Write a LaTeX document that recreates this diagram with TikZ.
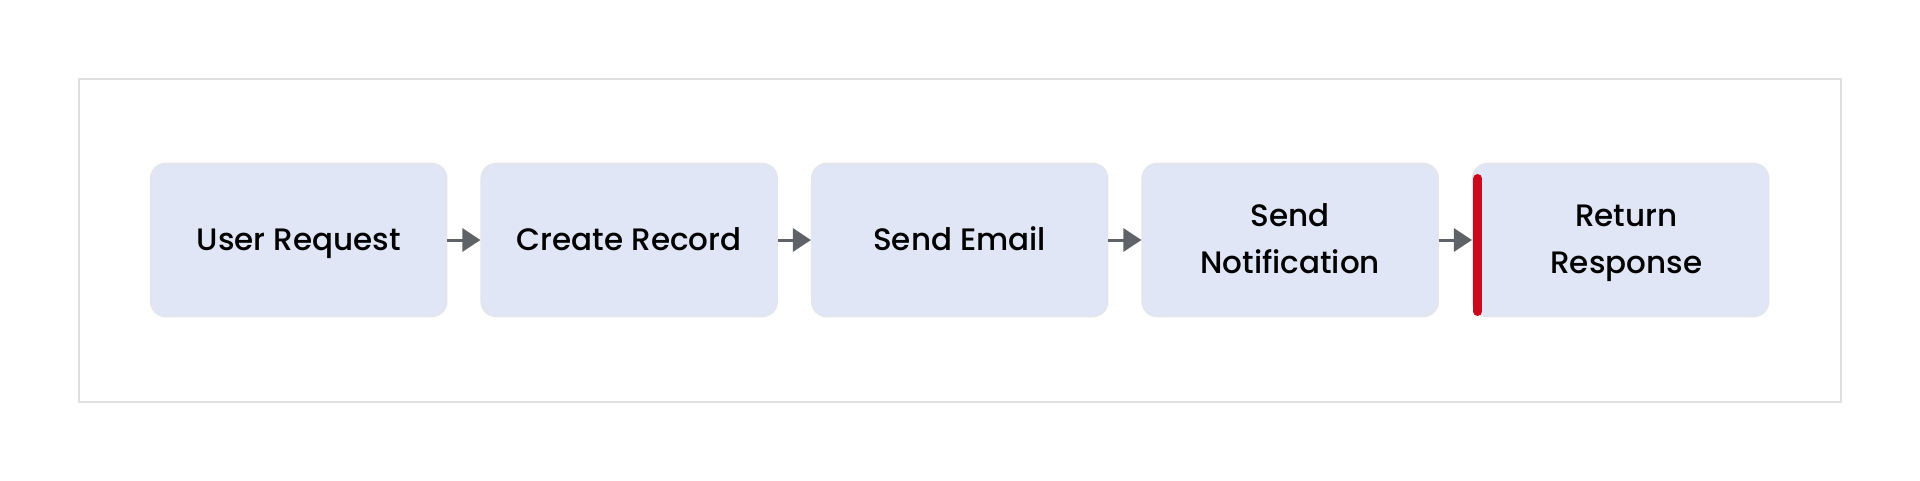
\documentclass[tikz,border=0pt]{standalone}
\usepackage{fontspec}
\setmainfont{Poppins}[UprightFont={* Medium}]
\usetikzlibrary{arrows.meta}
\definecolor{boxfill}{HTML}{E0E6F5}
\definecolor{boxline}{HTML}{E3E5EC}
\definecolor{frameline}{HTML}{E0E0E0}
\definecolor{arrowgray}{HTML}{5F6368}
\definecolor{accentred}{HTML}{CC0A1D}
\tikzset{
  stepbox/.style={draw=boxline, line width=1.5pt, fill=boxfill, rounded corners=15pt,
    minimum width=296pt, minimum height=153pt, inner sep=0pt, align=center,
    text=black, font=\fontsize{31}{46.7}\selectfont},
  oneline/.style={text height=30pt, text depth=8.6pt},
  twoline/.style={text height=76.7pt, text depth=10.1pt},
  flow/.style={draw=arrowgray, line width=3pt, -{Triangle[length=18pt,width=23pt]}},
  accentbar/.style={draw=accentred, line width=9pt, line cap=round}
}
\begin{document}
\begin{tikzpicture}[x=1pt,y=-1pt]
\useasboundingbox (0,0) rectangle (1920,480);
\fill[white] (0,0) rectangle (1920,480);
\draw[frameline, line width=2pt] (78.5,78.5) rectangle (1840.5,401.5);
\node[stepbox, oneline] (n1) at (298.7,240) {User Request};
\node[stepbox, oneline] (n2) at (629.2,240) {Create Record};
\node[stepbox, oneline] (n3) at (959.7,240) {Send Email};
\node[stepbox, twoline] (n4) at (1290.2,240) {Send\\Notification};
\node[stepbox, twoline] (n5) at (1620.7,240) {\hspace*{11pt}Return\\\hspace*{11pt}Response};
\coordinate (bartop) at ([xshift=5.8pt,yshift=-71.5pt]n5.west);
\coordinate (barbot) at ([xshift=5.8pt,yshift=61.5pt]n5.west);
\draw[accentbar] (bartop) -- (barbot);
\draw[flow] (n1.east) -- (n2.west);
\draw[flow] (n2.east) -- (n3.west);
\draw[flow] (n3.east) -- (n4.west);
\draw[flow] (n4.east) -- (n5.west);
\end{tikzpicture}
\end{document}
